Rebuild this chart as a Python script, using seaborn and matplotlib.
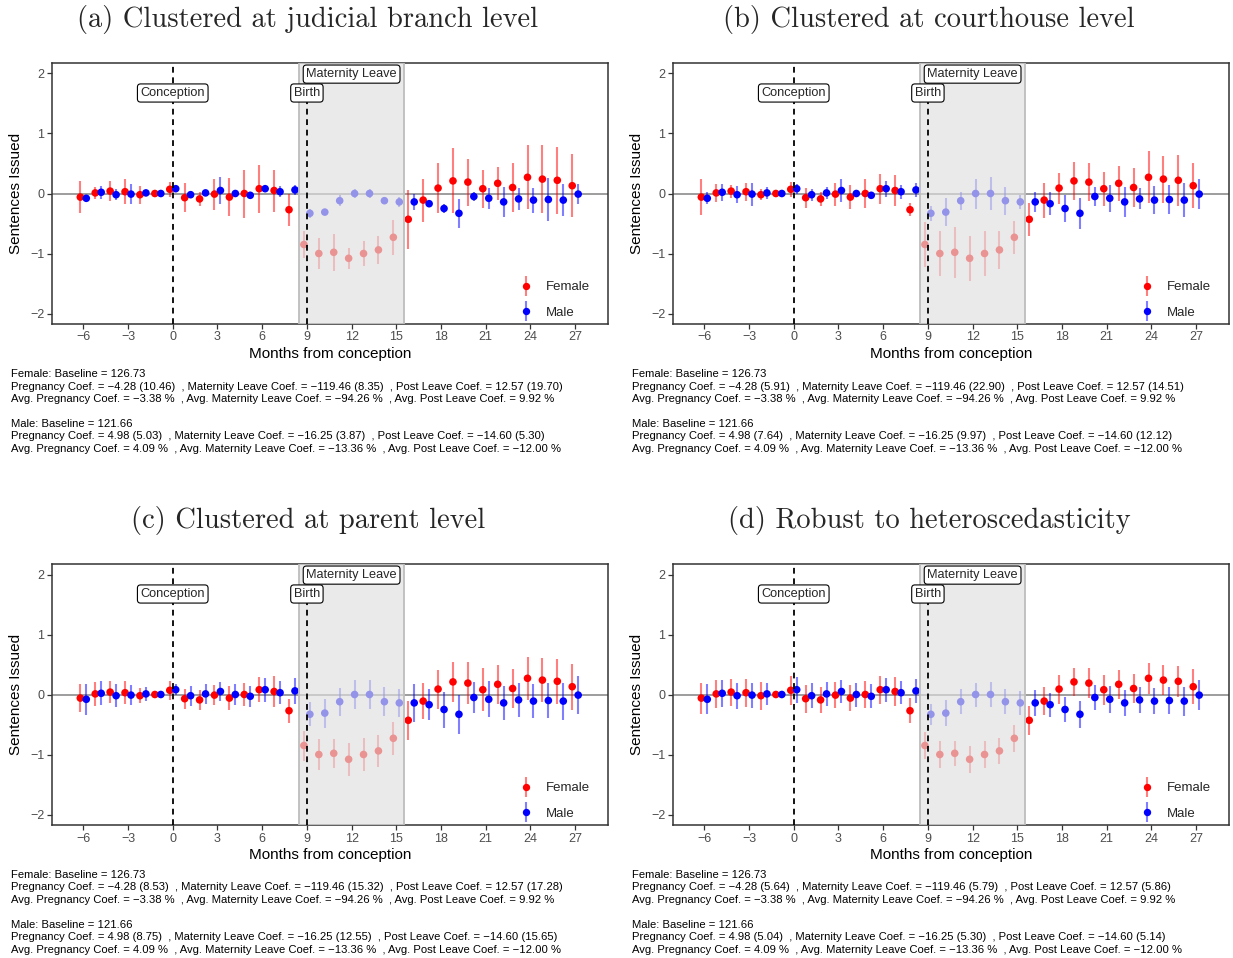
import matplotlib
matplotlib.use("Agg")
import matplotlib.pyplot as plt
from matplotlib.lines import Line2D
from matplotlib.legend_handler import HandlerTuple
import pandas as pd
import seaborn as sns

# ---------------------------------------------------------------- data
months = list(range(-6, 28))

female_coef = [-0.06, 0.01, 0.04, 0.03, -0.02, 0.00, 0.07, -0.07, -0.09, -0.01,
               -0.06, 0.00, 0.08, 0.05, -0.27, -0.85, -1.00, -0.98, -1.08, -1.00,
               -0.94, -0.73, -0.43, -0.11, 0.09, 0.21, 0.19, 0.08, 0.17, 0.10,
               0.27, 0.24, 0.22, 0.13]
male_coef = [-0.08, 0.02, -0.02, -0.01, 0.01, 0.00, 0.08, -0.02, 0.01, 0.05,
             0.00, -0.03, 0.08, 0.03, 0.06, -0.33, -0.31, -0.12, 0.00, 0.00,
             -0.12, -0.14, -0.14, -0.17, -0.25, -0.33, -0.05, -0.08, -0.14, -0.09,
             -0.11, -0.10, -0.11, -0.01]

# 95% interval half-widths under each clustering choice
female_ci_a = [0.27, 0.105, 0.17, 0.21, 0.15, 0.0, 0.125, 0.24, 0.11, 0.26, 0.32, 0.40,
               0.40, 0.35, 0.27, 0.23, 0.26, 0.31, 0.18, 0.21, 0.24, 0.29, 0.49, 0.36,
               0.41, 0.54, 0.39, 0.32, 0.27, 0.41, 0.53, 0.57, 0.56, 0.52]
male_ci_a = [0.04, 0.11, 0.09, 0.17, 0.04, 0.0, 0.04, 0.06, 0.04, 0.22, 0.04, 0.04,
             0.04, 0.09, 0.09, 0.08, 0.05, 0.09, 0.07, 0.08, 0.05, 0.08, 0.14, 0.04,
             0.08, 0.24, 0.08, 0.17, 0.25, 0.19, 0.21, 0.36, 0.27, 0.17]
female_ci_b = [0.30, 0.145, 0.11, 0.15, 0.09, 0.0, 0.12, 0.17, 0.12, 0.19, 0.20, 0.24,
               0.25, 0.26, 0.11, 0.37, 0.375, 0.425, 0.37, 0.375, 0.31, 0.27, 0.28, 0.29,
               0.26, 0.31, 0.31, 0.28, 0.29, 0.325, 0.43, 0.39, 0.425, 0.37]
male_ci_b = [0.10, 0.14, 0.14, 0.19, 0.10, 0.0, 0.08, 0.10, 0.10, 0.19, 0.05, 0.05,
             0.13, 0.12, 0.12, 0.125, 0.23, 0.15, 0.25, 0.27, 0.23, 0.12, 0.165, 0.19,
             0.22, 0.255, 0.16, 0.23, 0.245, 0.175, 0.23, 0.24, 0.28, 0.245]
female_ci_c = [0.23, 0.20, 0.18, 0.19, 0.125, 0.0, 0.16, 0.17, 0.16, 0.17, 0.20, 0.19,
               0.21, 0.26, 0.20, 0.25, 0.26, 0.24, 0.28, 0.27, 0.27, 0.28, 0.32, 0.30,
               0.325, 0.34, 0.35, 0.36, 0.33, 0.32, 0.36, 0.37, 0.37, 0.38]
male_ci_c = [0.26, 0.20, 0.19, 0.17, 0.11, 0.0, 0.095, 0.17, 0.16, 0.155, 0.18, 0.17,
             0.20, 0.19, 0.22, 0.20, 0.24, 0.23, 0.24, 0.24, 0.24, 0.23, 0.31, 0.26,
             0.30, 0.33, 0.26, 0.30, 0.28, 0.29, 0.28, 0.29, 0.31, 0.32]
female_ci_d = [0.26, 0.23, 0.225, 0.23, 0.23, 0.0, 0.24, 0.23, 0.22, 0.22, 0.22, 0.22,
               0.23, 0.24, 0.21, 0.225, 0.22, 0.21, 0.22, 0.22, 0.22, 0.22, 0.245, 0.23,
               0.24, 0.24, 0.25, 0.25, 0.245, 0.235, 0.26, 0.25, 0.26, 0.29]
male_ci_d = [0.25, 0.22, 0.22, 0.21, 0.19, 0.0, 0.22, 0.21, 0.20, 0.19, 0.20, 0.20,
             0.20, 0.19, 0.20, 0.17, 0.22, 0.21, 0.20, 0.21, 0.21, 0.20, 0.22, 0.20,
             0.21, 0.22, 0.21, 0.23, 0.21, 0.22, 0.22, 0.22, 0.24, 0.25]

panel_titles = ["(a) Clustered at judicial branch level",
                "(b) Clustered at courthouse level",
                "(c) Clustered at parent level",
                "(d) Robust to heteroscedasticity"]

x_ticks = [-6, -3, 0, 3, 6, 9, 12, 15, 18, 21, 24, 27]
y_ticks = [-2, -1, 0, 1, 2]

conception_month = 0
birth_month = 9
leave_start, leave_end = 8.5, 15.5

# summary estimates printed under each panel
female_baseline = 126.73
male_baseline = 121.66
female_coefs = [-4.28, -119.46, 12.57]
male_coefs = [4.98, -16.25, -14.60]
female_avg_pct = [-3.38, -94.26, 9.92]
male_avg_pct = [4.09, -13.36, -12.00]
female_se_a = [10.46, 8.35, 19.70]
male_se_a = [5.03, 3.87, 5.30]
female_se_b = [5.91, 22.90, 14.51]
male_se_b = [7.64, 9.97, 12.12]
female_se_c = [8.53, 15.32, 17.28]
male_se_c = [8.75, 12.55, 15.65]
female_se_d = [5.64, 5.79, 5.86]
male_se_d = [5.04, 5.30, 5.14]

panels = [
    (female_ci_a, male_ci_a, female_se_a, male_se_a),
    (female_ci_b, male_ci_b, female_se_b, male_se_b),
    (female_ci_c, male_ci_c, female_se_c, male_se_c),
    (female_ci_d, male_ci_d, female_se_d, male_se_d),
]

# ---------------------------------------------------------------- style
sns.set_theme(style="white")
plt.rcParams["font.family"] = ["Liberation Sans", "DejaVu Sans"]
plt.rcParams["axes.unicode_minus"] = True

RED = "#FF0000"
BLUE = "#0000FF"
palette = {"Female": RED, "Male": BLUE}
DODGE = 0.2

W, H = 1233, 958
fig = plt.figure(figsize=(W / 100, H / 100), dpi=100)


def num(v):
    s = f"{abs(v):.2f}"
    return ("\u2212" + s) if v < 0 else s


def tick_label(v):
    return ("\u2212" + str(abs(v))) if v < 0 else str(v)


def note_lines(sex, baseline, coefs, ses, pcts):
    return [
        f"{sex}: Baseline = {baseline:.2f}",
        f"Pregnancy Coef. = {num(coefs[0])} ({ses[0]:.2f})  , "
        f"Maternity Leave Coef. = {num(coefs[1])} ({ses[1]:.2f})  , "
        f"Post Leave Coef. = {num(coefs[2])} ({ses[2]:.2f})",
        f"Avg. Pregnancy Coef. = {num(pcts[0])} %  , "
        f"Avg. Maternity Leave Coef. = {num(pcts[1])} %  , "
        f"Avg. Post Leave Coef. = {num(pcts[2])} %",
    ]


for i, (f_ci, m_ci, f_se, m_se) in enumerate(panels):
    col, row = i % 2, i // 2
    ox, oy = 621 * col, 501 * row
    left, top, aw, ah = 52 + ox, 63 + oy, 556, 261
    ax = fig.add_axes([left / W, 1 - (top + ah) / H, aw / W, ah / H])

    df = pd.concat([
        pd.DataFrame({"month": months, "coef": female_coef, "ci": f_ci, "sex": "Female",
                      "pos": [m - DODGE for m in months]}),
        pd.DataFrame({"month": months, "coef": male_coef, "ci": m_ci, "sex": "Male",
                      "pos": [m + DODGE for m in months]}),
    ], ignore_index=True)

    ax.axhline(0, color="#8C8C8C", lw=1.2, zorder=1)

    for sex, sub in df.groupby("sex", sort=True):
        ax.vlines(sub["pos"], sub["coef"] - sub["ci"], sub["coef"] + sub["ci"],
                  color=palette[sex], alpha=0.5, lw=1.5, zorder=2)
    sns.scatterplot(data=df, x="pos", y="coef", hue="sex", palette=palette,
                    hue_order=["Female", "Male"], s=30, linewidth=0,
                    legend=False, ax=ax, zorder=3)

    # maternity-leave window laid over the estimates
    ax.axvspan(leave_start, leave_end, facecolor=(0.88, 0.88, 0.88, 0.66),
               edgecolor="#BDBDBD", lw=1.3, zorder=4)

    dash = (0, (3.2, 2.6))
    ax.axvline(conception_month, color="black", lw=1.3, linestyle=dash, zorder=5)
    ax.axvline(birth_month, color="black", lw=1.3, linestyle=dash, zorder=5)

    box = dict(boxstyle="round,pad=0.24,rounding_size=0.25", fc="white",
               ec="black", lw=0.8)
    ax.text(conception_month, 1.675, "Conception", ha="center", va="center",
            fontsize=9.2, bbox=box, zorder=6)
    ax.text(birth_month, 1.675, "Birth", ha="center", va="center",
            fontsize=9.2, bbox=box, zorder=6)
    ax.text((leave_start + leave_end) / 2, 1.99, "Maternity Leave", ha="center",
            va="center", fontsize=9.2, bbox=box, zorder=6)

    ax.set_xlim(-8.1, 29.2)
    ax.set_ylim(-2.175, 2.175)
    ax.set_xticks(x_ticks)
    ax.set_xticklabels([tick_label(v) for v in x_ticks])
    ax.set_yticks(y_ticks)
    ax.set_yticklabels([tick_label(v) for v in y_ticks])
    ax.tick_params(axis="both", which="major", direction="out", length=3.4,
                   width=0.9, color="#333333", labelcolor="#4D4D4D",
                   labelsize=9, pad=2, bottom=True, left=True)
    for sp in ax.spines.values():
        sp.set_color("#333333")
        sp.set_linewidth(1.1)
    ax.grid(False)
    ax.set_xlabel("Months from conception", fontsize=11, labelpad=2.5, color="black")
    ax.set_ylabel("Sentences Issued", fontsize=11, labelpad=5, color="black")

    lf = (Line2D([], [], color=RED, alpha=0.5, marker="|", markersize=14,
                 mew=1.5, linestyle="None"),
          Line2D([], [], color=RED, marker="o", markersize=5.3, mew=0,
                 linestyle="None"))
    lm = (Line2D([], [], color=BLUE, alpha=0.5, marker="|", markersize=14,
                 mew=1.5, linestyle="None"),
          Line2D([], [], color=BLUE, marker="o", markersize=5.3, mew=0,
                 linestyle="None"))
    ax.legend([lf, lm], ["Female", "Male"], handler_map={tuple: HandlerTuple()},
              loc="center", bbox_to_anchor=(0.903, 0.092), frameon=False,
              fontsize=9.5, handlelength=1.2, handletextpad=0.9,
              labelspacing=1.0, borderpad=0.2)

    fig.text((308 + ox) / W, 1 - (19.5 + oy) / H, panel_titles[i],
             ha="center", va="center", fontsize=20.5, family="cmr10")

    lines = (note_lines("Female", female_baseline, female_coefs, f_se, female_avg_pct)
             + [""]
             + note_lines("Male", male_baseline, male_coefs, m_se, male_avg_pct))
    line_y = [373, 385.5, 398, 410.5, 423, 435.5, 448]
    for txt, ly in zip(lines, line_y):
        if txt:
            fig.text((11 + ox) / W, 1 - (ly + oy) / H, txt, ha="left",
                     va="center_baseline", fontsize=8.1, color="black")

fig.savefig("out.png", dpi=100)
